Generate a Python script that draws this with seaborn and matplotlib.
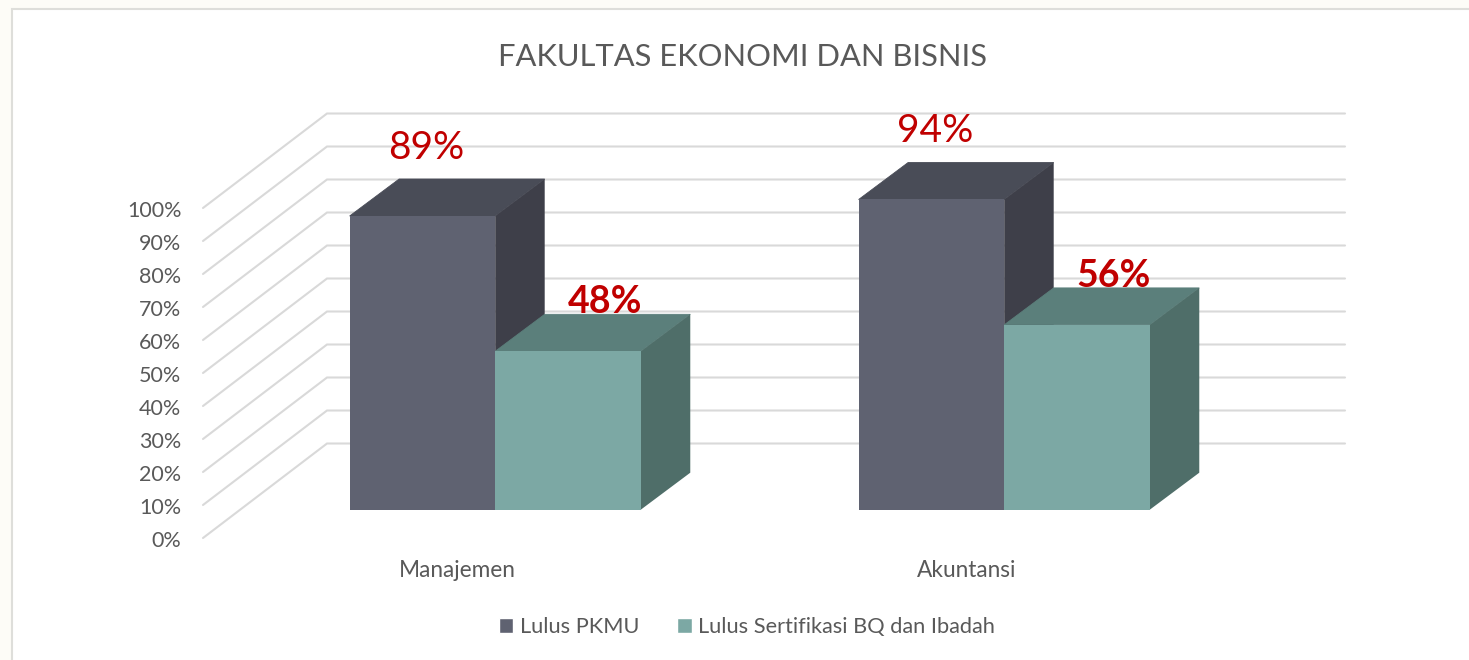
import pandas as pd
import matplotlib
matplotlib.use("Agg")
import matplotlib.pyplot as plt
import seaborn as sns
from matplotlib.lines import Line2D
from matplotlib.patches import Polygon, Rectangle
from matplotlib.transforms import Affine2D, IdentityTransform

# data
fakultas = ["Manajemen", "Akuntansi"]
lulus_pkmu = [89, 94]
lulus_bq = [48, 56]
seri = ["Lulus PKMU", "Lulus Sertifikasi BQ dan Ibadah"]
y_ticks = list(range(0, 101, 10))

# colours per series: front, top, side
warna = [("#5F6271", "#494C57", "#3E3F49"), ("#7CA8A4", "#5B7F7B", "#4F6E69")]
teks = "#595959"
merah = "#C00000"

W, H = 1469, 660
# depth of the fake 3d box, px
wall_dx, wall_dy = 124, 94.5
bar_dx, bar_dy = 37.7, 28.3
bar_depth_x, bar_depth_y = 49.5, 37

df = pd.DataFrame({
    "fakultas": fakultas * 2,
    "nilai": lulus_pkmu + lulus_bq,
    "seri": [seri[0]] * 2 + [seri[1]] * 2,
})

sns.set_theme(style="white")
plt.rcParams["font.family"] = ["Lato", "DejaVu Sans"]

fig = plt.figure(figsize=(W / 100, H / 100), dpi=100, facecolor="#FDFCF7")
fig.add_artist(Rectangle((12, -10), W, H - 9 + 10, transform=IdentityTransform(),
                         facecolor="white", edgecolor="#DEDEDA", linewidth=1.5, zorder=-2))

ax = fig.add_axes([203 / W, (H - 538) / H, 1018 / W, 330 / H])
ax.patch.set_alpha(0)
sns.barplot(data=df, x="fakultas", y="nilai", hue="seri", hue_order=seri,
            palette=[w[0] for w in warna], width=0.572, saturation=1,
            errorbar=None, ax=ax)
ax.set_xlim(-0.5, 1.5)
ax.set_ylim(0, 100)
ax.set_xlabel("")
ax.set_ylabel("")
ax.set_yticks(y_ticks)
ax.set_yticklabels([f"{t}%" for t in y_ticks])
sns.despine(ax=ax, left=True, bottom=True)
ax.tick_params(axis="y", length=0, pad=15.5, labelsize=15.5, labelcolor=teks)
ax.tick_params(axis="x", length=0, pad=15.5, labelsize=16.3, labelcolor=teks)
for lab in ax.get_yticklabels():
    lab.set_transform(lab.get_transform() + Affine2D().translate(0, -1))

# walls: diagonal from the axis plane, then along the back
x_kiri = ax.transData.transform((-0.5, 0))[0]
x_kanan = ax.transData.transform((1.5, 0))[0]
for t in y_ticks:
    y_px = ax.transData.transform((0, t))[1]
    fig.add_artist(Line2D([x_kiri, x_kiri + wall_dx, x_kanan + wall_dx],
                          [y_px, y_px + wall_dy, y_px + wall_dy],
                          transform=IdentityTransform(), color="#D9D9D9",
                          linewidth=1.5, solid_joinstyle="miter", zorder=-1))

# boxes, the front comes from barplot, the top and the side are built from it
n = len(fakultas)
for i, bar in enumerate(ax.patches[:2 * n]):
    s = i // n
    z = 3 + s * 3 + (i % n) * 10
    (x0, y0) = ax.transData.transform((bar.get_x(), 0)) + (bar_dx, bar_dy)
    (x1, y1) = ax.transData.transform((bar.get_x() + bar.get_width(), bar.get_height())) + (bar_dx, bar_dy)
    bar.set_transform(ax.transData + Affine2D().translate(bar_dx, bar_dy))
    bar.set_clip_on(False)
    bar.set_linewidth(0)
    bar.set_zorder(z + 1)
    ax.add_artist(Polygon([(x0, y1), (x1, y1), (x1 + bar_depth_x, y1 + bar_depth_y),
                           (x0 + bar_depth_x, y1 + bar_depth_y)], closed=True,
                          transform=IdentityTransform(), facecolor=warna[s][1],
                          edgecolor=warna[s][1], linewidth=0.6, zorder=z, clip_on=False))
    ax.add_artist(Polygon([(x1, y0), (x1, y1), (x1 + bar_depth_x, y1 + bar_depth_y),
                           (x1 + bar_depth_x, y0 + bar_depth_y)], closed=True,
                          transform=IdentityTransform(), facecolor=warna[s][2],
                          linewidth=0, zorder=z, clip_on=False))
    nilai = bar.get_height()
    if s == 0:
        ax.annotate(f"{nilai:.0f}%", ((x0 + x1) / 2 + 3.5, y1 + 68), xycoords=IdentityTransform(),
                    ha="center", va="center", color=merah, fontsize=28, zorder=40,
                    annotation_clip=False)
    else:
        ax.annotate(f"{nilai:.0f}%", ((x0 + x1) / 2 + 37, y1 + 49), xycoords=IdentityTransform(),
                    ha="center", va="center", color=merah, fontsize=27, fontweight="bold",
                    zorder=40, annotation_clip=False)

fig.text(743 / W, 1 - 57 / H, "FAKULTAS EKONOMI DAN BISNIS", ha="center", va="center",
         fontsize=22.2, color=teks)

ax.legend(*ax.get_legend_handles_labels(), ncol=2, loc="center", frameon=False,
          bbox_to_anchor=(747 / W, 1 - 627 / H), bbox_transform=fig.transFigure,
          fontsize=15.7, labelcolor=teks, handlelength=0.65, handleheight=0.65,
          handletextpad=0.3, columnspacing=1.75, borderpad=0)

fig.savefig("out.png", dpi=100, facecolor=fig.get_facecolor())
